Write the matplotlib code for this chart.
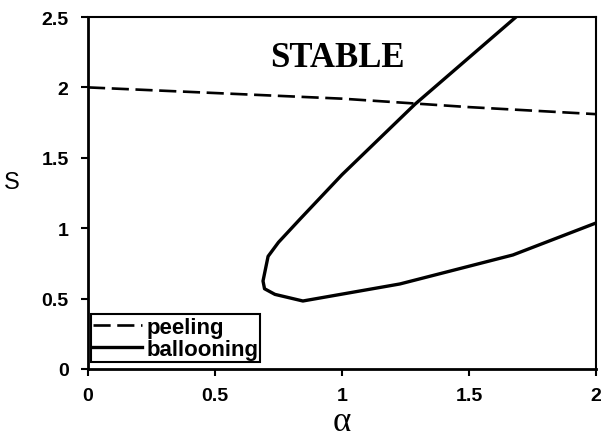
import matplotlib
matplotlib.use('Agg')
import matplotlib.pyplot as plt

# peeling boundary
peel_alpha = [0.0, 0.5, 1.0, 1.5, 2.0]
peel_s = [2.0, 1.96, 1.92, 1.86, 1.81]

# ballooning boundary (upper branch down to nose, then lower branch)
ball_alpha = [1.685, 1.287, 1.0, 0.835, 0.75, 0.709, 0.689, 0.695, 0.736, 0.846, 1.228, 1.673, 2.0]
ball_s = [2.5, 1.88, 1.38, 1.065, 0.9, 0.80, 0.625, 0.57, 0.53, 0.483, 0.604, 0.81, 1.037]

xticks = [0, 0.5, 1, 1.5, 2]
xticklabels = ['0', '0.5', '1', '1.5', '2']
yticks = [0, 0.5, 1, 1.5, 2, 2.5]
yticklabels = ['0', '0.5', '1', '1.5', '2', '2.5']

plt.rcParams['font.family'] = ['Liberation Sans', 'DejaVu Sans']

fig = plt.figure(figsize=(6.03, 4.39), dpi=100)
ax = fig.add_axes([88 / 603, 1 - 370 / 439, 508 / 603, 352 / 439])

ax.plot(peel_alpha, peel_s, color='black', lw=1.9, dashes=(6.5, 2.5), label='peeling')
ax.plot(ball_alpha, ball_s, color='black', lw=2.4, label='ballooning')

ax.set_xlim(0, 2)
ax.set_ylim(0, 2.5)
ax.set_xticks(xticks)
ax.set_xticklabels(xticklabels, fontweight='bold', fontsize=14)
ax.set_yticks(yticks)
ax.set_yticklabels(yticklabels, fontweight='bold', fontsize=14)
ax.tick_params(direction='out', length=5, width=1.5)
ax.tick_params(axis='y', pad=9)
ax.tick_params(axis='x', pad=8)
for sp in ['left', 'bottom']:
    ax.spines[sp].set_linewidth(2)
for sp in ['top', 'right']:
    ax.spines[sp].set_linewidth(1.5)

ax.set_xlabel('α', family=['Liberation Serif', 'DejaVu Serif'], fontsize=25, va='baseline')
ax.xaxis.set_label_coords(0.5, -0.172)
ax.set_ylabel('S', fontsize=17, rotation=0, va='center', ha='center')
ax.yaxis.set_label_coords(-0.15, 0.53)

ax.text(0.98, 2.21, 'STABLE', family='Liberation Serif', fontweight='bold', fontsize=25,
        ha='center', va='center')

leg = ax.legend(loc='lower left', bbox_to_anchor=(0.005, 0.02), borderaxespad=0.0,
                fancybox=False, framealpha=1, edgecolor='black',
                prop={'weight': 'bold', 'size': 16}, handlelength=2.2,
                handletextpad=0.2, borderpad=0.1, labelspacing=0.05)
leg.get_frame().set_linewidth(1.5)

fig.savefig('out.png', dpi=100)
